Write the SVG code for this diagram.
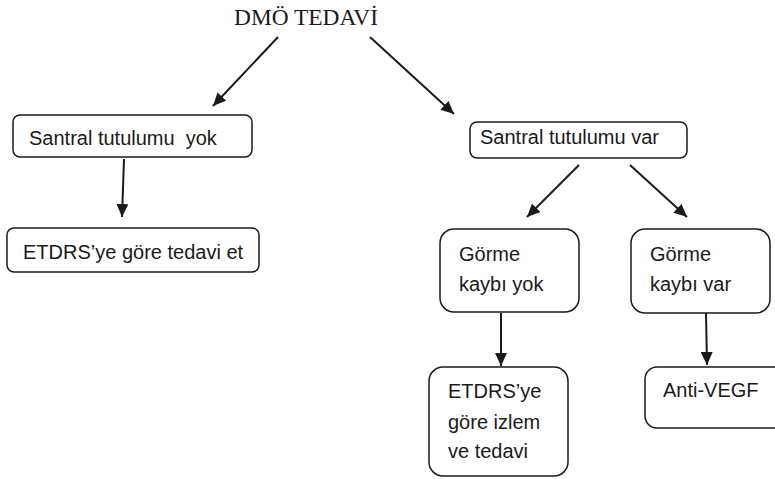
<svg xmlns="http://www.w3.org/2000/svg" width="775" height="479" viewBox="0 0 775 479">
<defs>
<style>
.box{fill:#fff;stroke:#1a1a1a;stroke-width:1.5}
.t{font-family:"Liberation Sans",Arial,sans-serif;font-size:20px;fill:#1a1a1a;white-space:pre}
.title{font-family:"Liberation Serif","Times New Roman",serif;font-size:23px;fill:#1a1a1a}
.c{stroke:#1a1a1a;stroke-width:2;fill:none;marker-end:url(#ah)}
</style>
<marker id="ah" markerUnits="userSpaceOnUse" markerWidth="14" markerHeight="12" refX="13" refY="6" orient="auto">
<path d="M0,0 L13,6 L0,12 Z" fill="#1a1a1a"/>
</marker>
</defs>
<rect width="775" height="479" fill="#fff"/>
<g id="title"><text class="title" x="234" y="25" textLength="144" lengthAdjust="spacingAndGlyphs">DMÖ TEDAVİ</text></g>
<g id="connectors">
<line class="c" x1="278" y1="37" x2="213" y2="106"/>
<line class="c" x1="370" y1="37" x2="454" y2="114"/>
<line class="c" x1="124" y1="159" x2="122" y2="217"/>
<line class="c" x1="579" y1="165" x2="527" y2="217"/>
<line class="c" x1="630" y1="165" x2="687" y2="217"/>
<line class="c" x1="501" y1="313" x2="501" y2="366"/>
<line class="c" x1="706" y1="313" x2="707" y2="365"/>
</g>
<g id="n1"><rect class="box" x="13" y="115" width="239" height="42" rx="7"/><text class="t" x="29" y="145" xml:space="preserve">Santral tutulumu  yok</text></g>
<g id="n2"><rect class="box" x="7" y="228" width="252" height="44" rx="7"/><text class="t" x="23" y="259">ETDRS’ye göre tedavi et</text></g>
<g id="n3"><rect class="box" x="470" y="122" width="217" height="36" rx="7"/><text class="t" x="480" y="144">Santral tutulumu var</text></g>
<g id="n4"><rect class="box" x="440" y="229" width="139" height="83" rx="14"/><text class="t" x="459" y="261">Görme</text><text class="t" x="459" y="291">kaybı yok</text></g>
<g id="n5"><rect class="box" x="631" y="229" width="139" height="84" rx="14"/><text class="t" x="650" y="261">Görme</text><text class="t" x="650" y="291">kaybı var</text></g>
<g id="n6"><rect class="box" x="429" y="367" width="139" height="109" rx="14"/><text class="t" x="448" y="398">ETDRS’ye</text><text class="t" x="448" y="429">göre izlem</text><text class="t" x="448" y="458">ve tedavi</text></g>
<g id="n7"><rect class="box" x="645" y="367" width="150" height="61" rx="12"/><text class="t" x="663" y="397">Anti-VEGF</text></g>
</svg>
